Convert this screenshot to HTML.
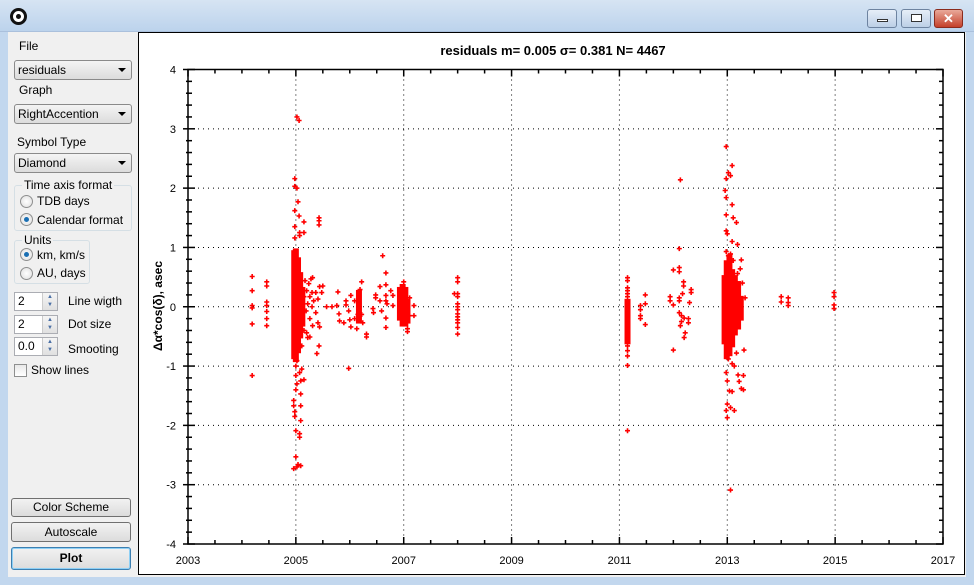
<!DOCTYPE html>
<html><head><meta charset="utf-8">
<style>
*{box-sizing:border-box}
body{margin:0;width:974px;height:585px;overflow:hidden;font-family:"Liberation Sans",sans-serif;font-size:12px;background:#f0f0f0;position:relative}
.abs{position:absolute}
.titlebar{left:0;top:0;width:974px;height:32px;background:linear-gradient(#d6e4f3,#bcd3ec);border-bottom:1px solid #aac0dc}
.frameL{left:0;top:32px;width:8px;height:553px;background:#c2d7ee}
.frameR{left:966px;top:32px;width:8px;height:553px;background:#c2d7ee}
.frameB{left:0;top:577px;width:974px;height:8px;background:#c2d7ee}
.lbl{position:absolute;font-size:12px;color:#000}
.combo{position:absolute;left:14px;width:118px;height:20px;border:1px solid #8a8a8a;border-radius:3px;background:linear-gradient(#f4f4f4,#dcdcdc);padding:2px 3px;font-size:12px}
.combo:after{content:"";position:absolute;right:5px;top:7px;border-left:4px solid transparent;border-right:4px solid transparent;border-top:4px solid #000}
.group{position:absolute;border:1px solid #d5dfe5;border-radius:3px}
.gtitle{position:absolute;top:-8px;left:7px;background:#f0f0f0;padding:0 2px;font-size:12px}
.radio{position:absolute;width:13px;height:13px;border-radius:50%;border:1px solid #8e8f8f;background:radial-gradient(#fff,#ddd)}
.radio.on:after{content:"";position:absolute;left:3px;top:3px;width:5px;height:5px;border-radius:50%;background:#1a6fb3}
.spin{position:absolute;left:14px;width:44px;height:19px;border:1px solid #abadb3;background:#fff;padding:1px 3px;font-size:12px}
.spin .b{position:absolute;right:0;top:0;width:15px;height:17px;background:linear-gradient(#f5f5f5,#e0e0e0);border-left:1px solid #ccc;font-size:6px;color:#4a6fa5;line-height:8px;text-align:center}
.btn{position:absolute;left:11px;width:120px;border:1px solid #707070;border-radius:3px;background:linear-gradient(#f2f2f2,#dcdcdc);text-align:center;font-size:12px}
.wb{position:absolute;top:9px;height:19px;border:1px solid #6d83a0;border-radius:3px;background:linear-gradient(#e6eef8,#bccfe6)}
</style></head>
<body>
<div class="abs titlebar"></div>
<div class="abs" style="left:10px;top:8px;width:17px;height:17px;border-radius:50%;border:3px solid #111;background:#fff"><div style="position:absolute;left:3px;top:3px;width:5px;height:5px;border-radius:50%;background:#111"></div></div>
<div class="wb" style="left:867px;width:30px"><div style="position:absolute;left:9px;top:9px;width:11px;height:3px;border:1px solid #333;background:#fff"></div></div>
<div class="wb" style="left:901px;width:30px"><div style="position:absolute;left:9px;top:4px;width:11px;height:8px;border:1px solid #333;background:#fff"></div></div>
<div class="wb" style="left:934px;width:29px;background:linear-gradient(#e9a99a,#c4402a);border-color:#8b2b1d;color:#fff;font-weight:bold;text-align:center;line-height:17px;font-size:13px">✕</div>
<div class="abs frameL"></div>
<div class="abs frameR"></div>
<div class="abs frameB"></div>

<div class="lbl" style="left:19px;top:39px">File</div>
<div class="combo" style="top:60px">residuals</div>
<div class="lbl" style="left:19px;top:83px">Graph</div>
<div class="combo" style="top:104px">RightAccention</div>
<div class="lbl" style="left:17px;top:135px">Symbol Type</div>
<div class="combo" style="top:153px">Diamond</div>

<div class="group" style="left:14px;top:185px;width:118px;height:46px"><span class="gtitle">Time axis format</span></div>
<div class="radio" style="left:20px;top:195px"></div>
<div class="lbl" style="left:37px;top:194px">TDB days</div>
<div class="radio on" style="left:20px;top:213px"></div>
<div class="lbl" style="left:37px;top:213px">Calendar format</div>

<div class="group" style="left:14px;top:240px;width:76px;height:44px"><span class="gtitle">Units</span></div>
<div class="radio on" style="left:20px;top:248px"></div>
<div class="lbl" style="left:37px;top:248px">km, km/s</div>
<div class="radio" style="left:20px;top:267px"></div>
<div class="lbl" style="left:37px;top:266px">AU, days</div>

<div class="spin" style="top:292px">2<div class="b">▲<br>▼</div></div>
<div class="lbl" style="left:68px;top:294px">Line wigth</div>
<div class="spin" style="top:315px">2<div class="b">▲<br>▼</div></div>
<div class="lbl" style="left:68px;top:317px">Dot size</div>
<div class="spin" style="top:337px">0.0<div class="b">▲<br>▼</div></div>
<div class="lbl" style="left:68px;top:342px">Smooting</div>
<div class="abs" style="left:14px;top:364px;width:13px;height:13px;border:1px solid #8e8f8f;background:linear-gradient(#e8e8e8,#fff)"></div>
<div class="lbl" style="left:31px;top:363px">Show lines</div>

<div class="btn" style="top:498px;height:19px;line-height:17px">Color Scheme</div>
<div class="btn" style="top:522px;height:20px;line-height:18px">Autoscale</div>
<div class="btn" style="top:547px;height:23px;line-height:20px;font-weight:bold;border-color:#3c7fb1;box-shadow:inset 0 0 0 1px #8fd0f5">Plot</div>

<svg class="abs" style="left:138px;top:32px" width="828" height="544" id="chart">
<rect x="0.5" y="0.5" width="826" height="542" fill="#fff" stroke="#000"/>
<text x="415" y="23" text-anchor="middle" font-family="Liberation Sans, sans-serif" font-weight="bold" font-size="13">residuals m= 0.005 σ= 0.381 N= 4467</text>
<text transform="translate(24,274) rotate(-90)" text-anchor="middle" font-family="Liberation Sans, DejaVu Sans, sans-serif" font-weight="bold" font-size="12">Δα*cos(δ), asec</text>
</svg>
<script>
// x: decimal years, y: residuals (asec)
const xTicks=[2003,2005,2007,2009,2011,2013,2015,2017];
const yTicks=[-4,-3,-2,-1,0,1,2,3,4];
// dense bands (observation clusters): year, low, high
const bandYears=[2004.97,2005.0,2005.04,2005.08,2005.12,2006.17,2006.93,2006.98,2007.03,2007.07,2011.15,2012.95,2012.99,2013.04,2013.09,2013.14,2013.2,2013.25];
const bandLow=[-0.85,-0.9,-0.75,-0.5,-0.3,-0.25,-0.2,-0.3,-0.3,-0.25,-0.6,-0.6,-0.85,-0.8,-0.65,-0.45,-0.35,-0.2];
const bandHigh=[0.92,0.95,0.8,0.55,0.3,0.25,0.3,0.35,0.3,0.1,0.1,0.5,0.75,0.85,0.6,0.5,0.4,0.15];
// individual points
const ptYears=[
2004.19,2004.19,2004.19,2004.19,2004.19,2004.19,2004.46,2004.46,2004.46,2004.46,2004.46,2004.46,2004.46,
2005.02,2005.06,2004.98,2004.98,2005.02,2005.04,2004.98,2005.06,2004.98,2005.15,2005.07,2005.15,2005.07,2004.98,2005.43,2005.43,2005.43,
2005.02,2005.0,2005.11,2005.0,2005.07,2005.02,2005.09,2005.15,2005.0,2005.09,2004.96,2005.09,2004.96,2004.98,2004.98,2005.09,2005.0,2005.07,2005.07,2005.0,2005.02,2004.96,2005.04,2005.09,
2005.17,2005.28,2005.31,2005.2,2005.26,2005.3,2005.37,2005.41,2005.3,2005.19,2005.26,2005.37,2005.41,2005.2,2005.26,2005.31,2005.44,2005.48,2005.57,2005.44,2005.5,2005.39,2005.43,2005.22,2005.11,2005.15,2005.22,2005.33,2005.15,2005.24,
2005.67,2005.76,2005.78,2005.8,2005.81,2005.89,2005.93,2005.98,2006.0,2006.02,2005.93,2006.02,2006.09,2006.09,2006.13,2006.15,2005.98,2006.19,
2006.22,2006.22,2006.24,2006.31,2006.31,2006.43,2006.44,2006.56,2006.56,2006.59,2006.67,2006.69,2006.76,2006.8,2006.8,2006.61,2006.67,2006.67,2006.67,2006.67,2006.67,2006.48,2006.48,
2007.0,2007.07,2007.07,2007.11,2007.11,2007.19,2007.19,
2008.0,2008.0,2008.0,2008.0,2008.0,2008.0,2008.0,2008.0,2008.0,2008.0,2008.0,2008.0,2008.0,2007.94,
2011.15,2011.15,2011.15,2011.15,2011.15,2011.15,2011.15,2011.15,2011.15,2011.15,2011.15,2011.15,2011.15,2011.15,
2011.39,2011.39,2011.39,2011.39,2011.48,2011.48,2011.48,
2012.13,2012.11,2012.0,2012.11,2012.11,2012.19,2012.19,2011.94,2011.94,2012.0,2012.11,2012.11,2012.17,2012.33,2012.33,2012.3,2012.11,2012.15,2012.2,2012.28,2012.28,2012.15,2012.13,2012.22,2012.2,2012.0,
2012.98,2013.09,2013.02,2013.06,2012.98,2012.96,2012.98,2013.09,2012.98,2013.17,2012.98,2013.0,2013.11,2012.98,2013.02,2013.19,2013.09,2013.06,2013.11,2013.19,2013.26,2013.24,2013.28,2013.33,
2013.02,2013.09,2012.98,2013.13,2013.2,2013.0,2013.04,2013.09,2013.3,2013.0,2013.06,2012.98,2013.26,2013.3,2013.22,2013.13,2013.0,2013.31,2013.06,2013.17,
2014.0,2014.0,2014.13,2014.13,2014.13,2014.98,2014.98,2014.98,2014.98];
const ptValues=[
0.51,0.27,0.02,-0.02,-0.29,-1.16,0.42,0.35,0.08,0.02,-0.08,-0.2,-0.32,
3.2,3.14,2.16,2.03,2.0,1.77,1.62,1.53,1.35,1.43,1.25,1.25,1.2,1.16,1.5,1.45,1.38,
-0.91,-1.0,-1.05,-1.16,-1.11,-1.3,-1.25,-1.23,-1.4,-1.47,-1.58,-1.67,-1.67,-1.77,-1.85,-1.92,-2.09,-2.14,-2.2,-2.53,-2.7,-2.73,-2.66,-2.68,
0.44,0.47,0.49,0.27,0.17,0.24,0.24,0.13,0,-0.07,-0.2,-0.1,-0.27,-0.44,-0.51,-0.32,-0.34,0.24,0,0.34,0.35,-0.79,-0.66,-0.52,-0.66,-0.4,0.05,0.1,0.17,0.39,
0,0.02,0.25,-0.12,-0.24,-0.27,0.1,-0.07,-0.22,-0.34,0.03,0.19,0.1,-0.2,-0.37,-0.13,-1.04,0.29,
0.42,-0.13,-0.27,-0.51,-0.46,-0.03,-0.1,0.34,0.1,-0.07,0.1,0.05,0.27,0.19,0.02,0.86,0.57,0.37,0.19,-0.19,-0.35,0.2,0.15,
0.42,-0.37,-0.42,0.15,-0.15,0.02,-0.15,
0.49,0.42,0.22,0.17,0.05,0,-0.05,-0.12,-0.17,-0.22,-0.27,-0.35,-0.46,0.22,
0.49,0.44,0.32,0.27,0.22,0.17,-0.66,-0.74,-0.83,-0.99,-2.09,0.07,-0.5,-0.4,
0.02,-0.05,-0.15,-0.2,0.2,0.05,-0.3,
2.14,0.98,0.62,0.66,0.59,0.42,0.35,0.17,0.1,0.03,0.15,0.1,0.22,0.29,0.24,0.07,-0.1,-0.15,-0.19,-0.2,-0.27,-0.25,-0.32,-0.44,-0.52,-0.73,
2.7,2.38,2.26,2.21,2.16,1.96,1.84,1.72,1.55,1.42,1.28,1.23,1.5,0.93,0.86,1.05,1.1,0.89,0.78,0.56,0.79,0.64,0.4,0.15,
-0.88,-0.96,-1.11,-1.0,-1.15,-1.25,-1.42,-1.43,-1.16,-1.64,-1.7,-1.75,-1.38,-1.4,-1.26,-1.75,-1.87,-0.73,-3.09,-0.78,
0.17,0.08,0.15,0.07,0.02,0.24,0.17,0.03,-0.03];

const NS="http://www.w3.org/2000/svg";
const svg=document.getElementById('chart');
const OX=138,OY=32;
const L=188-OX,R=943-OX,T=69.5-OY,B=544-OY;
const xMin=2003,xMax=2017,yMin=-4,yMax=4;
function sx(v){return L+(v-xMin)/(xMax-xMin)*(R-L);}
function sy(v){return B-(v-yMin)/(yMax-yMin)*(B-T);}
function mk(tag,attrs){const e=document.createElementNS(NS,tag);for(const k in attrs)e.setAttribute(k,attrs[k]);svg.appendChild(e);return e;}
// grid
xTicks.forEach(t=>{if(t>xMin&&t<xMax){const g=mk('line',{x1:sx(t),x2:sx(t),y1:T,y2:B,stroke:'#000','stroke-width':1,'stroke-dasharray':'1 4'});

}});
yTicks.forEach(t=>{if(t>yMin&&t<yMax){const g=mk('line',{x1:L,x2:R,y1:sy(t),y2:sy(t),stroke:'#000','stroke-width':1,'stroke-dasharray':'1 4'});

}});
// axes box
const ax=mk('rect',{x:L,y:T,width:R-L,height:B-T,fill:'none',stroke:'#000','stroke-width':1.5});


// ticks
for(let v=xMin;v<=xMax+1e-9;v+=0.5){const maj=Math.abs(v-Math.round(v))<1e-9&&(Math.round(v)-xMin)%2===0;const len=maj?7:4;
const a=mk('line',{x1:sx(v),x2:sx(v),y1:B,y2:B-len,stroke:'#000','stroke-width':1.5});


const b=mk('line',{x1:sx(v),x2:sx(v),y1:T,y2:T+len,stroke:'#000','stroke-width':1.5});

}
for(let i=0;i<=40;i++){const v=yMin+i*0.2;const maj=i%5===0;const len=maj?7:4;
const a=mk('line',{x1:L-(maj?5:2),x2:L+len,y1:sy(v),y2:sy(v),stroke:'#000','stroke-width':1.5});


const b=mk('line',{x1:R,x2:R-len,y1:sy(v),y2:sy(v),stroke:'#000','stroke-width':1.5});

}
xTicks.forEach(t=>{const e=mk('text',{x:sx(t),y:B+20,'text-anchor':'middle','font-size':11,'font-family':'Liberation Sans, sans-serif'});e.textContent=t;

});
yTicks.forEach(t=>{const e=mk('text',{x:L-12,y:sy(t)+4,'text-anchor':'end','font-size':11,'font-family':'Liberation Sans, sans-serif'});e.textContent=t;

});
// bands
bandYears.forEach((yr,i)=>{const y1=sy(bandHigh[i]),y2=sy(bandLow[i]);
const r=mk('rect',{x:sx(yr)-3,y:y1-2,width:6,height:y2-y1+4,fill:'#ff0000'});

});
// points as plus markers
ptYears.forEach((yr,i)=>{const x=sx(yr),y=sy(ptValues[i]);
const p=mk('path',{d:`M${x-2.5} ${y}h5M${x} ${y-2.5}v5`,stroke:'#ff0000','stroke-width':1.6});

});
</script>
</body></html>
